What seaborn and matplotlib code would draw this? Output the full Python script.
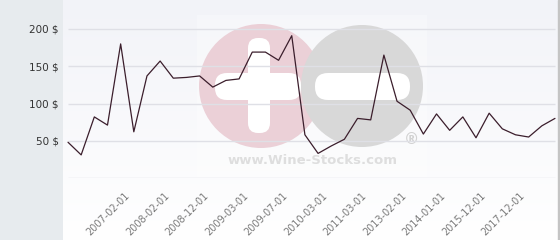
import numpy as np
import pandas as pd
import matplotlib
matplotlib.use("Agg")
import matplotlib.pyplot as plt
import seaborn as sns
from matplotlib.patches import Circle, FancyBboxPatch, Rectangle
import matplotlib.transforms as mtrans

prices = [48, 31, 82, 71, 180, 62, 137, 157, 134, 135, 137, 122, 131, 133,
          169, 169, 158, 191, 58, 33, 43, 52, 80, 78, 165, 103, 91, 59, 86,
          64, 82, 54, 87, 66, 58, 55, 70, 80]
tick_index = [4, 7, 10, 13, 16, 19, 22, 25, 28, 31, 34]
tick_labels = ["2007-02-01", "2008-02-01", "2008-12-01", "2009-03-01",
               "2009-07-01", "2010-03-01", "2011-03-01", "2013-02-01",
               "2014-01-01", "2015-12-01", "2017-12-01"]
y_ticks = [50, 100, 150, 200]
y_labels = ["50 $", "100 $", "150 $", "200 $"]

df = pd.DataFrame({"i": np.arange(len(prices)), "price": prices})

sns.set_style("white")
plt.rcParams['font.family'] = ['DejaVu Sans']

W, H = 560, 240
fig = plt.figure(figsize=(5.6, 2.4), dpi=100)
fig.patch.set_facecolor("#e7ebee")

# background / watermark axes in pixel coords
bg = fig.add_axes([63 / W, 0, 497 / W, 1])
bg.set_xlim(63, 560)
bg.set_ylim(240, 0)
bg.axis("off")
grad = np.linspace(0, 1, 256).reshape(-1, 1)
cmap = matplotlib.colors.LinearSegmentedColormap.from_list("g", ["#f2f3f8", "#ffffff"])
bg.imshow(grad, extent=[63, 558, 240, 0], aspect="auto", cmap=cmap, zorder=0)
bg.add_patch(Rectangle((558, 0), 2, 240, color="#c4c4c4", zorder=1))
bg.add_patch(Rectangle((197, 15), 230, 162, color="white", alpha=0.3, zorder=1, lw=0))
bg.add_patch(Circle((261, 86), 62, color="#ebd0d7", zorder=2, lw=0))
bg.add_patch(Circle((362, 86), 61, color="#d8d8d8", zorder=3, lw=0))
bg.add_patch(FancyBboxPatch((248, 38), 22, 95, boxstyle="round,pad=0,rounding_size=10",
                            color="white", zorder=4, lw=0))
bg.add_patch(FancyBboxPatch((215, 73), 86, 27, boxstyle="round,pad=0,rounding_size=12",
                            color="white", zorder=4, lw=0))
bg.add_patch(FancyBboxPatch((315, 73), 95, 27, boxstyle="round,pad=0,rounding_size=13",
                            color="white", zorder=4, lw=0))
bg.text(313, 161, "www.Wine-Stocks.com", ha="center", va="center", fontsize=9.5,
        fontweight="bold", color="#dedede", zorder=4)
bg.text(412, 139, "®", ha="center", va="center", fontsize=11, fontweight="bold",
        color="#d2d2d2", zorder=4)

# main axes
ax = fig.add_axes([63 / W, (240 - 178) / H, 495 / W, 178 / H])
ax.patch.set_alpha(0)
ax.set_xlim(-0.38, 37.23)
ax.set_ylim(0, 178 / 0.745)
ax.hlines([0] + y_ticks, 0, len(prices) - 1, color="#dfe0e6", lw=1, zorder=1)
sns.lineplot(data=df, x="i", y="price", ax=ax, color="#3b1e2c", lw=0.9, zorder=3)
for s in ax.spines.values():
    s.set_visible(False)
ax.set_xlabel("")
ax.set_ylabel("")
ax.set_yticks(y_ticks)
ax.set_yticklabels(y_labels, fontsize=7.5, color="#333333")
ax.tick_params(axis="y", length=0, pad=3)
ax.set_xticks(tick_index)
ax.set_xticklabels(tick_labels, rotation=45, ha="right", rotation_mode="anchor",
                   fontsize=7, color="#7a7a7a")
ax.tick_params(axis="x", length=0, pad=9)
off = mtrans.ScaledTranslation(4 / 100, 0, fig.dpi_scale_trans)
for lab in ax.get_xticklabels():
    lab.set_transform(lab.get_transform() + off)

fig.savefig("out.png", dpi=100, facecolor=fig.get_facecolor())
